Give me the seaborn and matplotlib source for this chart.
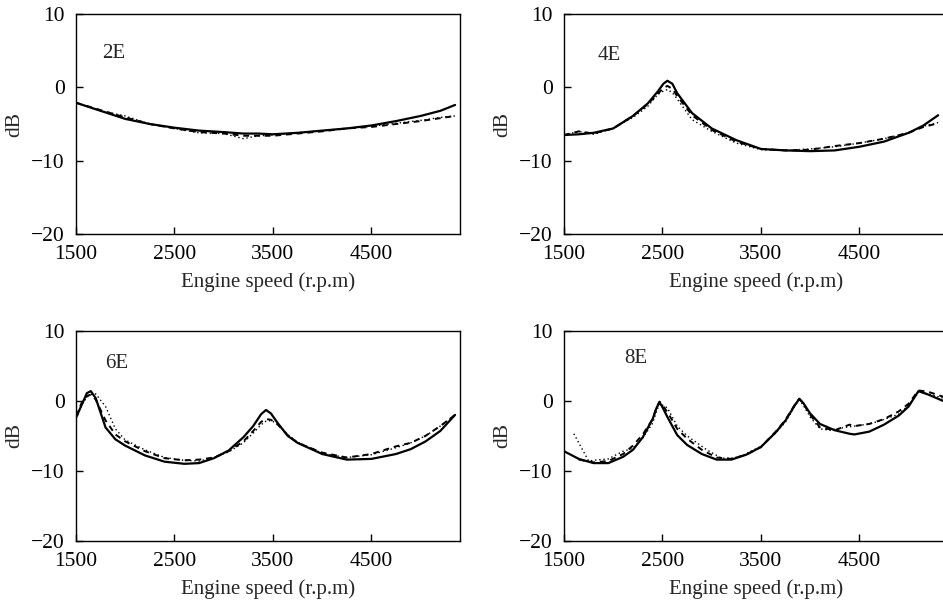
import matplotlib
matplotlib.use("Agg")
import matplotlib.pyplot as plt
import seaborn as sns

# engine order panels: solid / dashed / dotted curves (dB vs r.p.m)
rpm_2e = [1500, 1750, 2000, 2250, 2500, 2750, 3000, 3200, 3350, 3500, 3750, 4000, 4250, 4500, 4750, 5000, 5200, 5350]
solid_2e = [-2.1, -3.2, -4.3, -5.0, -5.5, -5.9, -6.1, -6.3, -6.3, -6.4, -6.2, -5.9, -5.6, -5.2, -4.6, -3.9, -3.2, -2.4]
dashed_2e = [-2.1, -3.1, -4.1, -5.0, -5.6, -6.1, -6.3, -6.6, -6.6, -6.6, -6.3, -6.0, -5.6, -5.4, -5.0, -4.6, -4.2, -3.9]
dotted_2e = [-2.1, -3.2, -3.9, -5.0, -5.6, -6.2, -6.3, -7.0, -6.6, -6.5, -6.2, -5.9, -5.6, -5.3, -4.9, -4.5, -4.1, -3.9]

rpm_4e = [1500, 1650, 1800, 2000, 2200, 2350, 2450, 2510, 2550, 2600, 2650, 2800, 3000, 3250, 3500, 3750, 4000, 4250, 4500, 4750, 5000, 5150, 5300]
solid_4e = [-6.5, -6.4, -6.2, -5.6, -3.9, -2.2, -0.6, 0.5, 0.9, 0.5, -0.8, -3.5, -5.6, -7.2, -8.4, -8.6, -8.7, -8.6, -8.1, -7.4, -6.2, -5.2, -3.8]
dashed_4e = [-6.5, -6.0, -6.3, -5.6, -3.9, -2.3, -0.9, -0.1, 0.2, -0.2, -1.2, -3.8, -5.8, -7.4, -8.4, -8.6, -8.5, -8.0, -7.6, -7.0, -6.2, -5.4, -4.9]
dotted_4e = [-6.5, -6.0, -6.4, -5.6, -4.1, -2.6, -1.0, -0.5, -0.3, -0.7, -1.6, -4.4, -6.0, -7.6, -8.5, -8.6, -8.4, -8.1, -7.6, -7.0, -6.2, -5.3, -4.8]

rpm_6e = [1500, 1560, 1610, 1650, 1700, 1800, 1900, 2000, 2200, 2400, 2600, 2750, 2900, 3050, 3200, 3300, 3380, 3430, 3480, 3550, 3650, 3750, 4000, 4250, 4500, 4750, 4900, 5050, 5200, 5350]
solid_6e = [-2.4, -0.5, 1.1, 1.4, 0.4, -3.8, -5.5, -6.4, -7.8, -8.7, -9.0, -8.9, -8.2, -7.1, -5.2, -3.6, -1.9, -1.3, -1.8, -3.2, -5.0, -6.0, -7.6, -8.4, -8.3, -7.6, -6.9, -5.8, -4.3, -2.0]
dashed_6e = [-2.2, -0.2, 0.7, 0.9, 0.2, -2.8, -4.8, -5.8, -7.2, -8.2, -8.5, -8.4, -8.1, -7.2, -5.8, -4.3, -3.0, -2.6, -2.7, -3.4, -4.9, -6.0, -7.4, -8.1, -7.6, -6.5, -6.0, -5.0, -3.6, -2.0]
dotted_6e = [-2.6, -0.5, 0.5, 0.9, 1.0, -0.8, -4.0, -5.6, -7.0, -8.1, -8.5, -8.6, -8.1, -7.3, -6.0, -4.6, -3.4, -2.9, -2.8, -3.3, -4.8, -5.9, -7.5, -8.1, -7.7, -6.7, -6.0, -5.0, -3.6, -2.0]

rpm_8e = [1500, 1650, 1800, 1950, 2100, 2200, 2300, 2400, 2440, 2470, 2500, 2550, 2650, 2750, 2900, 3050, 3200, 3350, 3500, 3650, 3750, 3850, 3890, 3930, 4000, 4100, 4250, 4400, 4450, 4600, 4750, 4900, 5000, 5100, 5200, 5350]
solid_8e = [-7.2, -8.3, -8.9, -8.9, -8.0, -7.0, -5.2, -2.6, -1.0, -0.2, -0.9, -2.3, -4.9, -6.3, -7.6, -8.4, -8.4, -7.7, -6.6, -4.5, -2.8, -0.5, 0.3, -0.3, -1.8, -3.3, -4.2, -4.7, -4.8, -4.4, -3.4, -2.1, -0.8, 1.4, 0.9, 0.0]
dashed_8e = [None, -8.4, -8.8, -8.6, -7.6, -6.4, -4.8, -2.6, -0.9, -0.1, -0.6, -1.6, -4.0, -5.4, -7.0, -8.1, -8.3, -7.7, -6.6, -4.4, -2.7, -0.4, 0.3, -0.4, -2.0, -3.8, -4.2, -3.4, -3.6, -3.3, -2.6, -1.5, -0.4, 1.5, 1.3, 0.6]
dotted_8e = [-4.7, -8.6, -8.5, -8.3, -7.2, -6.8, -5.3, -3.2, -1.5, -0.4, -0.6, -1.0, -3.6, -5.0, -7.0, -8.2, -8.2, -7.9, -6.5, -4.6, -3.0, -0.6, 0.1, -0.6, -2.3, -4.0, -4.2, -3.8, -3.5, -3.3, -2.9, -1.9, -0.6, 1.3, 1.0, 0.4]
rpm_8e_dot = [1600, 1750, 1800, 1950, 2100, 2200, 2300, 2400, 2440, 2470, 2500, 2550, 2650, 2750, 2950, 3100, 3200, 3300, 3500, 3650, 3750, 3850, 3890, 3930, 4000, 4100, 4200, 4350, 4500, 4600, 4700, 4900, 5000, 5100, 5200, 5350]

labels = ["2E", "4E", "6E", "8E"]
label_pos = [(1770, 4.6), (1840, 4.3), (1800, 5.3), (2110, 6.0)]
x_ticks = [1500, 2500, 3500, 4500]
y_ticks = [10, 0, -10, -20]

sns.set_theme(style="ticks")
plt.rcParams["font.family"] = ["Liberation Serif", "DejaVu Serif"]

fig = plt.figure(figsize=(9.43, 6.05), dpi=100)
positions = [
    [0.0806, 0.6132, 0.4072, 0.3636],
    [0.5981, 0.6132, 0.4072, 0.3636],
    [0.0806, 0.1063, 0.4072, 0.3466],
    [0.5981, 0.1063, 0.4072, 0.3466],
]

panels = [
    (rpm_2e, solid_2e, rpm_2e, dashed_2e, rpm_2e, dotted_2e),
    (rpm_4e, solid_4e, rpm_4e, dashed_4e, rpm_4e, dotted_4e),
    (rpm_6e, solid_6e, rpm_6e, dashed_6e, rpm_6e, dotted_6e),
    (rpm_8e, solid_8e, rpm_8e, dashed_8e, rpm_8e_dot, dotted_8e),
]

for i, (xs, ys, xd, yd, xo, yo) in enumerate(panels):
    ax = fig.add_axes(positions[i])
    sns.lineplot(x=xs, y=ys, ax=ax, color="black", linewidth=1.6)
    sns.lineplot(x=xd, y=yd, ax=ax, color="black", linewidth=1.4, linestyle=(0, (3, 2.5)))
    sns.lineplot(x=xo, y=yo, ax=ax, color="black", linewidth=1.0, linestyle=(0, (1, 2)))
    ax.set_xlim(1500, 5400)
    ax.set_ylim(-20, 10)
    ax.set_xticks(x_ticks)
    ax.set_yticks(y_ticks)
    ax.set_yticklabels(["10", "0", "\u221210", "\u221220"])
    ax.tick_params(direction="in", length=5, width=1, labelsize=15.5, pad=8, colors="black")
    for sp in ax.spines.values():
        sp.set_linewidth(1.0)
        sp.set_color("black")
    ax.set_xlabel("Engine speed (r.p.m)", fontsize=15, labelpad=6)
    ax.set_ylabel("dB", fontsize=15.5, labelpad=5)
    ax.text(label_pos[i][0], label_pos[i][1], labels[i], fontsize=15, va="center", ha="left")

fig.savefig("out.png", dpi=100)
